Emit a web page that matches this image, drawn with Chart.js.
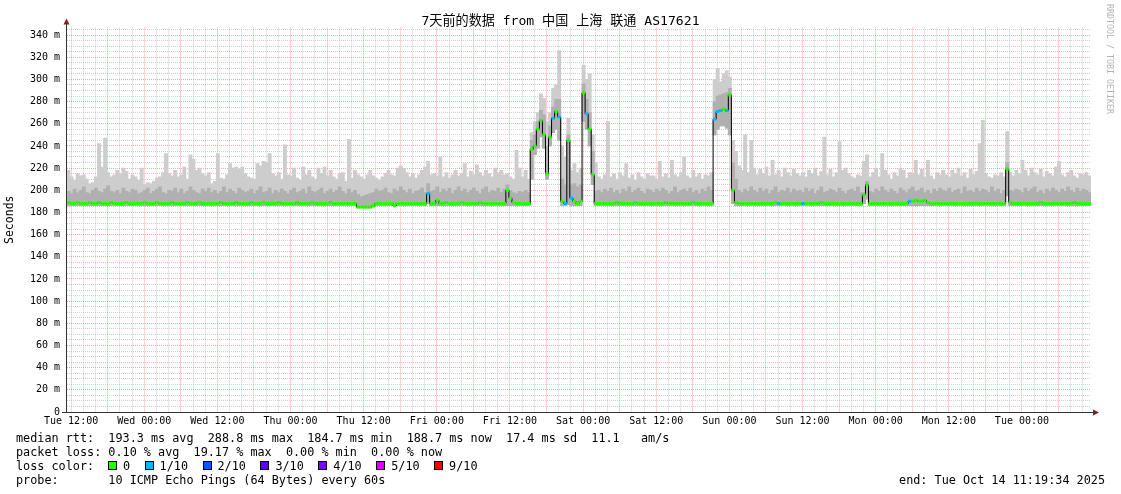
<!DOCTYPE html>
<html>
<head>
<meta charset="utf-8">
<script src="https://cdn.jsdelivr.net/npm/chart.js@4.4.1/dist/chart.umd.min.js"></script>
<style>
html,body{margin:0;padding:0;background:#fff;}
#wrap{position:relative;width:1121px;height:494px;overflow:hidden;background:#fff;}
#c{position:absolute;left:0;top:0;}
#title{position:absolute;left:0;top:13px;width:1121px;text-align:center;font-family:'DejaVu Sans Mono','Noto Sans CJK SC',monospace;font-size:13.1px;line-height:16px;white-space:pre;color:#000;}
.txt{position:absolute;font-family:'DejaVu Sans Mono',monospace;font-size:11.8px;line-height:14px;white-space:pre;color:#000;}
.box{position:absolute;width:7px;height:7px;border:1px solid #000;}
#wm{position:absolute;left:1105px;top:4px;font-family:'DejaVu Sans Mono',monospace;font-size:8.3px;color:#b4b4b4;writing-mode:vertical-rl;white-space:pre;}
</style>
</head>
<body>
<div id="wrap">
<canvas id="c" width="1121" height="494"></canvas>
<div id="title"></div>
<div id="wm">RRDTOOL / TOBI OETIKER</div>
<div id="legend"></div>
</div>
<script>
// ---------------- data (30-minute bins, start Tue Oct 7 11:19:34) ----------------
const chartTitle = '7天前的数据 from 中国 上海 联通 AS17621';
const xLabels = ['Tue 12:00','Wed 00:00','Wed 12:00','Thu 00:00','Thu 12:00','Fri 00:00','Fri 12:00','Sat 00:00','Sat 12:00','Sun 00:00','Sun 12:00','Mon 00:00','Mon 12:00','Tue 00:00'];
const yLabels = ['0','20 m','40 m','60 m','80 m','100 m','120 m','140 m','160 m','180 m','200 m','220 m','240 m','260 m','280 m','300 m','320 m','340 m'];
const firstLabelHour = 0.674;   // Tue 12:00 relative to graph start
const spanHours = 168;
const binHours = 0.5;

const median = [
189,188,188,189,188,188,188,189,188,188,189,188,188,188,189,188,188,188,188,189,188,188,188,188,
188,189,188,188,188,189,188,188,188,188,189,188,188,188,188,189,188,188,188,189,188,188,188,188,
188,188,189,188,188,188,188,189,188,188,188,188,189,188,188,188,189,188,188,188,188,189,188,188,
188,188,188,189,188,188,188,188,189,188,188,188,188,188,189,188,188,188,188,188,188,188,188,185,
185,185,185,185,186,188,188,188,188,188,188,186,188,188,188,188,188,188,188,188,188,188,197,188,
188,191,188,188,189,188,188,188,188,189,188,188,188,188,188,189,188,188,188,188,188,188,188,188,
200,193,189,188,188,188,188,188,237,240,255,263,250,215,248,265,271,266,190,188,245,193,190,188,
190,288,269,255,214,188,188,188,188,188,188,188,189,188,188,188,188,188,189,188,188,188,188,188,
188,188,188,188,189,188,188,188,188,188,188,188,188,189,188,188,188,188,188,188,264,271,272,273,
272,286,200,189,188,188,188,188,188,188,188,188,188,188,188,188,189,188,188,188,188,188,188,188,
188,188,188,188,188,188,188,189,188,188,188,188,188,188,188,188,188,188,188,188,188,196,205,188,
188,188,188,188,188,188,188,188,188,188,188,188,190,190,191,190,190,191,189,188,188,188,188,188,
188,188,188,188,188,188,188,188,188,188,188,188,188,188,188,188,188,188,188,188,219,189,188,188,
188,188,188,188,188,188,188,189,188,188,188,188,188,188,188,188,188,188,189,188,188,188,188,188];

const rttLow = [
186,186,186,186,186,186,186,186,186,186,186,186,186,186,186,186,186,186,186,186,186,186,186,186,
186,186,186,186,186,186,186,186,186,186,186,186,186,186,186,186,186,186,186,186,186,186,186,186,
186,186,186,186,186,186,186,186,186,186,186,186,186,186,186,186,186,186,186,186,186,186,186,186,
186,186,186,186,186,186,186,186,186,186,186,186,186,186,186,186,186,186,186,186,186,186,186,184,
184,184,184,184,185,186,186,186,186,186,186,186,186,186,186,186,186,186,186,186,186,186,188,186,
186,186,186,186,186,186,186,186,186,186,186,186,186,186,186,186,186,186,186,186,186,186,186,186,
186,186,186,186,186,186,186,186,210,232,238,248,238,210,240,252,255,245,186,186,187,186,186,186,
186,262,255,240,205,186,186,186,186,186,186,186,186,186,186,186,186,186,186,186,186,186,186,186,
186,186,186,186,186,186,186,186,186,186,186,186,186,186,186,186,186,186,186,186,250,255,258,258,
256,250,188,186,186,186,186,186,186,186,186,186,186,186,186,186,186,186,186,186,186,186,186,186,
186,186,186,186,186,186,186,186,186,186,186,186,186,186,186,186,186,186,186,186,186,188,192,186,
186,186,186,186,186,186,186,186,186,186,186,186,186,186,186,186,186,186,186,186,186,186,186,186,
186,186,186,186,186,186,186,186,186,186,186,186,186,186,186,186,186,186,186,186,195,186,186,186,
186,186,186,186,186,186,186,186,186,186,186,186,186,186,186,186,186,186,186,186,186,186,186,186];

const rttHigh = [
199,197,201,198,200,203,198,197,200,202,199,198,201,204,199,198,200,197,202,199,198,201,200,197,
198,200,202,197,199,201,203,198,197,200,199,202,198,201,197,199,203,200,198,197,201,199,202,198,
200,197,199,203,198,201,199,197,202,200,198,199,201,197,200,203,198,199,202,197,200,198,201,199,
197,200,202,198,199,201,197,203,199,198,200,202,197,199,201,198,200,203,199,197,201,198,200,196,
194,195,196,197,198,201,199,200,202,198,197,201,199,203,200,198,201,197,199,200,202,198,206,199,
200,203,198,201,199,202,197,200,203,199,201,198,200,202,199,197,201,203,198,200,199,202,198,201,
205,200,198,197,199,198,200,198,245,250,262,272,268,240,258,275,282,282,210,205,250,205,206,203,
205,296,282,270,235,199,200,198,201,199,202,198,200,197,201,199,203,198,200,202,199,197,201,200,
198,201,199,202,200,197,199,203,198,200,201,199,202,198,200,197,201,199,203,200,280,285,286,287,
288,292,225,210,200,198,201,199,203,200,198,202,199,201,197,200,203,198,200,199,202,198,201,199,
200,198,202,199,201,197,200,203,198,199,201,200,198,202,199,197,200,201,199,203,198,198,208,199,
198,201,199,203,200,198,201,199,197,202,200,198,201,203,199,200,202,198,200,197,201,199,202,200,
199,202,198,200,201,197,203,199,200,198,202,199,201,200,198,203,199,201,197,200,225,200,199,201,
200,198,202,199,201,203,198,200,197,201,199,202,200,198,201,199,203,200,198,202,199,201,200,198];

const rttMax = [
218,212,209,215,213,214,210,206,207,212,242,221,247,216,212,214,218,215,220,217,210,214,212,209,
220,205,207,206,208,211,212,216,233,215,213,218,212,214,221,210,232,228,218,220,215,213,216,206,
208,233,211,210,214,224,220,221,219,221,215,212,211,210,224,222,226,225,233,215,213,216,210,241,
214,213,220,211,209,221,214,218,212,210,220,215,221,213,218,212,210,215,216,208,246,211,218,214,
212,210,214,218,213,211,209,212,215,218,214,213,220,222,220,216,212,215,211,214,218,221,226,214,
215,213,230,212,216,211,214,218,213,215,224,212,217,214,223,216,213,218,215,212,220,216,218,214,
215,212,210,236,220,212,218,210,252,262,270,287,283,262,270,292,295,326,240,230,265,218,224,216,
220,313,300,305,250,225,212,210,214,262,212,215,210,216,213,224,211,214,209,216,212,210,215,213,
213,210,226,212,215,211,227,214,212,216,230,213,211,218,212,215,210,214,213,216,300,310,298,305,
308,302,245,235,222,218,250,216,245,220,214,219,215,221,213,227,214,218,212,220,216,213,219,215,
213,216,212,218,215,220,213,217,248,214,219,212,216,244,218,220,215,212,211,214,213,226,232,212,
216,220,212,233,218,214,210,216,213,220,218,211,216,215,227,214,219,212,227,213,210,216,214,218,
214,212,218,215,220,213,216,211,219,214,217,242,263,215,212,211,214,213,216,212,253,216,213,218,
215,227,218,213,220,216,214,219,212,217,215,213,221,226,214,212,216,218,213,211,215,214,216,213];

// packet loss (bins with loss; level in tenths)
const lossBins  = [118,159,161,163,165,170,212,213,214,216,233,241,276];
const lossLevel = [1,1,1,1,1,1,1,1,1,1,1,1,1];

const lossLabels = ['0','1/10','2/10','3/10','4/10','5/10','9/10'];
const lossTenths = [0,1,2,3,4,5,9];
const lossColors = ['#26ff00','#00b8ff','#0059ff','#5e00ff','#7e00ff','#dd00ff','#ff0000'];

const statLines = [
  'median rtt:  193.3 ms avg  288.8 ms max  184.7 ms min  188.7 ms now  17.4 ms sd  11.1   am/s',
  'packet loss: 0.10 % avg  19.17 % max  0.00 % min  0.00 % now'
];
const probeText = 'probe:       10 ICMP Echo Pings (64 Bytes) every 60s';
const endText = 'end: Tue Oct 14 11:19:34 2025';

// ---------------- build ----------------
document.getElementById('title').textContent = chartTitle;
const times = median.map((_, i) => i * binHours + binHours / 2);
const pointColors = median.map((_, i) => {
  const k = lossBins.indexOf(i);
  const lvl = k < 0 ? 0 : lossLevel[k];
  return lossColors[Math.max(0, lossTenths.indexOf(lvl))];
});

const yMax = 346.8;
const MONO = "'DejaVu Sans Mono', monospace";
const RED = 'rgba(255,60,60,0.45)';
const GREY = 'rgba(150,150,150,0.45)';

const xTickVals = [];
for (let h = firstLabelHour; h <= spanHours; h += 2) xTickVals.push(h);
const yTickVals = [];
for (let v = 0; v <= yMax; v += 5) yTickVals.push(v);

const axisPlugin = {
  id: 'rrdAxes',
  afterDatasetsDraw(chart) {
    const {ctx, chartArea: a} = chart;
    ctx.save();
    ctx.strokeStyle = '#333';
    ctx.lineWidth = 1;
    ctx.beginPath();
    ctx.moveTo(a.left - 0.5, a.bottom + 0.5);
    ctx.lineTo(a.left - 0.5, a.top - 5);
    ctx.moveTo(a.left - 5, a.bottom + 0.5);
    ctx.lineTo(a.right + 3, a.bottom + 0.5);
    ctx.stroke();
    ctx.fillStyle = '#8a1c1c';
    ctx.beginPath();
    ctx.moveTo(a.left - 0.5, a.top - 9);
    ctx.lineTo(a.left - 3.5, a.top - 3);
    ctx.lineTo(a.left + 2.5, a.top - 3);
    ctx.closePath();
    ctx.fill();
    ctx.beginPath();
    ctx.moveTo(a.right + 8, a.bottom + 0.5);
    ctx.lineTo(a.right + 2, a.bottom - 2.5);
    ctx.lineTo(a.right + 2, a.bottom + 3.5);
    ctx.closePath();
    ctx.fill();
    ctx.restore();
  }
};

new Chart(document.getElementById('c'), {
  type: 'bar',
  data: {
    datasets: [
      {
        type: 'line', label: 'median rtt', order: 0,
        data: median.map((v, i) => ({x: times[i], y: v})),
        borderColor: '#000', borderWidth: 1, stepped: 'middle', fill: false,
        pointStyle: 'line', pointRadius: 1.6, pointBorderWidth: 3,
        pointBorderColor: pointColors, pointBackgroundColor: pointColors
      },
      {
        type: 'bar', label: 'smoke inner', order: 1, grouped: false, barThickness: 3.2,
        data: rttHigh.map((v, i) => ({x: times[i], y: [rttLow[i], v]})),
        backgroundColor: '#b0b0b0', borderWidth: 0
      },
      {
        type: 'bar', label: 'smoke outer', order: 2, grouped: false, barThickness: 3.2,
        data: rttMax.map((v, i) => ({x: times[i], y: [rttLow[i], v]})),
        backgroundColor: '#cdcdcd', borderWidth: 0
      }
    ]
  },
  options: {
    responsive: false, animation: false, devicePixelRatio: 1, events: [],
    layout: {padding: {left: 0, right: 30, top: 27.5, bottom: 0}},
    plugins: {
      legend: {display: false}, tooltip: {enabled: false}, title: {display: false}
    },
    scales: {
      x: {
        type: 'linear', min: 0, max: spanHours, offset: false,
        afterBuildTicks(s) { s.ticks = xTickVals.map(v => ({value: v})); },
        afterFit(s) { s.height = 82; },
        grid: {
          offset: false, drawTicks: false, lineWidth: 1, borderDash: [1, 1],
          color(ctx) {
            const v = ctx.tick ? ctx.tick.value : 0;
            const d = Math.round(v - firstLabelHour);
            return d % 6 === 0 ? RED : GREY;
          }
        },
        border: {display: false, dash: [1, 1]},
        ticks: {
          autoSkip: false, maxRotation: 0, minRotation: 0, padding: 3, color: '#000',
          font: {family: MONO, size: 10},
          callback(value) {
            const d = value - firstLabelHour;
            const k = Math.round(d / 12);
            return Math.abs(d - k * 12) < 0.01 && xLabels[k] ? xLabels[k] : '';
          }
        }
      },
      y: {
        type: 'linear', min: 0, max: yMax,
        afterBuildTicks(s) { s.ticks = yTickVals.map(v => ({value: v})); },
        afterFit(s) { s.width = 67; },
        grid: {
          drawTicks: false, lineWidth: 1, borderDash: [1, 1],
          color(ctx) {
            const v = ctx.tick ? ctx.tick.value : 0;
            return Math.round(v) % 20 === 0 ? RED : GREY;
          }
        },
        border: {display: false, dash: [1, 1]},
        title: {display: true, text: 'Seconds', color: '#000', font: {family: MONO, size: 11.5}, padding: {top: 3, bottom: 0}},
        ticks: {
          autoSkip: false, padding: 7, color: '#000', font: {family: MONO, size: 10},
          callback(value) {
            const k = Math.round(value / 20);
            return Math.abs(value - k * 20) < 0.01 && yLabels[k] ? yLabels[k] : '';
          }
        }
      }
    }
  },
  plugins: [axisPlugin]
});

// ---------------- legend text (HTML) ----------------
const lg = document.getElementById('legend');
const CH = 7.1;
function addText(t, x, y) {
  const d = document.createElement('div');
  d.className = 'txt'; d.textContent = t;
  d.style.left = x + 'px'; d.style.top = y + 'px';
  lg.appendChild(d);
  return d;
}
addText(statLines[0], 16, 431);
addText(statLines[1], 16, 445);
addText('loss color:', 16, 459);
let bx = 108;
lossLabels.forEach((lab, i) => {
  const b = document.createElement('div');
  b.className = 'box';
  b.style.left = bx + 'px'; b.style.top = '461px';
  b.style.background = lossColors[i];
  lg.appendChild(b);
  addText(lab, bx + 15, 459);
  bx += 9 + 6 + lab.length * CH + 14.5;
});
addText(probeText, 16, 473);
const e = addText(endText, 0, 473);
e.style.left = 'auto'; e.style.right = '16px';
</script>
</body>
</html>
